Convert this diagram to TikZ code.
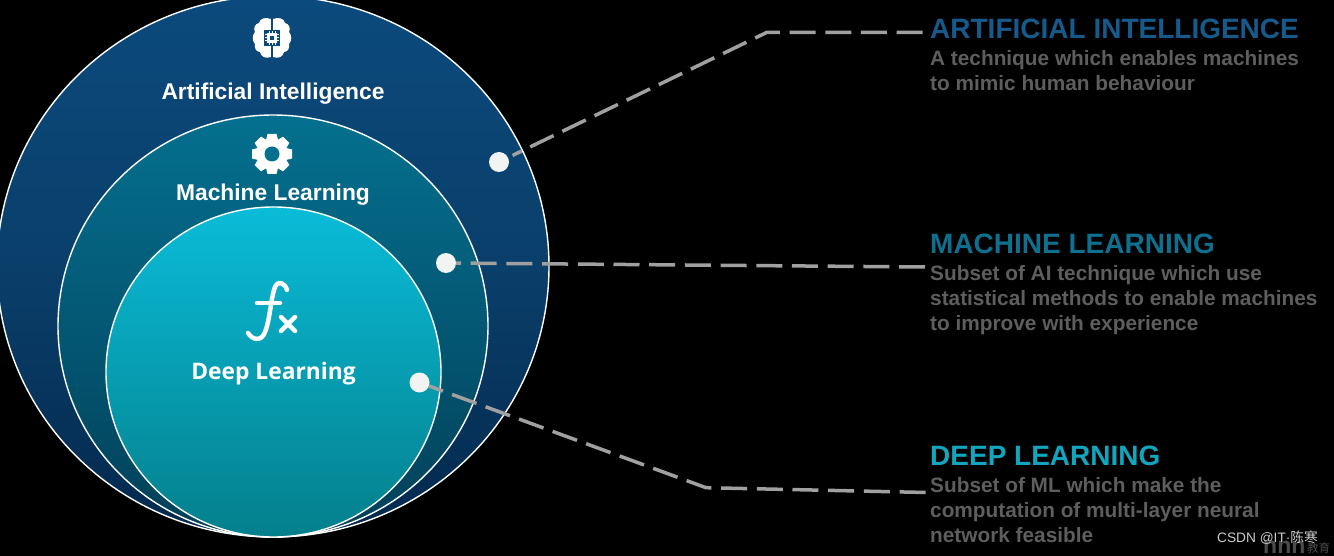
\documentclass[tikz,border=0pt]{standalone}
\usepackage{fontspec}
\setmainfont{Liberation Sans}
\newfontfamily\labelfont{Open Sans}
\newfontfamily\cjk{Noto Sans CJK SC}
\usetikzlibrary{positioning,shapes.geometric}
\definecolor{aiblue}{HTML}{165A8C}
\definecolor{mlteal}{HTML}{0F6F8F}
\definecolor{dlcyan}{HTML}{12A6BE}
\definecolor{desc}{HTML}{5E5E5E}
\definecolor{leader}{HTML}{A0A0A0}
\definecolor{dotgrey}{HTML}{F2F4F3}
\definecolor{aitop}{HTML}{0B4A7D}
\definecolor{aimid}{HTML}{0A3F6A}
\definecolor{aibot}{HTML}{03284D}
\definecolor{mltop}{HTML}{04708F}
\definecolor{mlbot}{HTML}{033F58}
\definecolor{dltop}{HTML}{0ABCD8}
\definecolor{dlbot}{HTML}{047F8C}

\begin{document}
\begin{tikzpicture}[
    x=1pt, y=-1pt,
    disc/.style={ellipse, draw=white, line width=1.4pt, inner sep=0pt},
    circlelabel/.style={text=white, font=\bfseries\fontsize{22.8}{26}\selectfont, inner sep=0pt, anchor=base},
    heading/.style={font=\bfseries\fontsize{28}{32}\selectfont, inner sep=0pt, anchor=base west},
    body/.style={text=desc, font=\bfseries\fontsize{20.8}{25}\selectfont, inner sep=0pt, align=left, anchor=north west},
    spot/.style={circle, fill=dotgrey, minimum size=20pt, inner sep=0pt},
    leadline/.style={draw=leader, line width=3.5pt, shorten <=10pt},
    icon/.style={draw=white, line width=4.5pt, line cap=round, line join=round}
]
\fill[black] (0,0) rectangle (1334,556);
\useasboundingbox (0,0) rectangle (1334,556);
\clip (0,0) rectangle (1334,556);

% the three discs
\node[disc, minimum width=552pt, minimum height=541pt, top color=aitop, bottom color=aibot, middle color=aimid] (ai) at (273,266.5) {};
\node[disc, minimum width=430pt, minimum height=422pt, top color=mltop, bottom color=mlbot] (ml) at (273,326) {};
\node[disc, minimum width=335pt, minimum height=330pt, top color=dltop, bottom color=dlbot] (dl) at (273.5,372) {};

% names inside
\node[circlelabel] (ailabel) at (273,100) {Artificial Intelligence};
\node[circlelabel] (mllabel) at (273,201) {Machine Learning};
\node[circlelabel, font=\labelfont\bfseries\fontsize{22.8}{26}\selectfont] (dllabel) at (273.5,379) {Deep Learning};

% brain
\foreach \side in {1,-1} {
  \fill[white, shift={(272,38)}, xscale=\side]
    (1.2,-19) .. controls (6,-21) and (12,-20) .. (13,-15)
    .. controls (17,-14) and (19,-10) .. (17,-6)
    .. controls (20,-3) and (20,3) .. (17,6)
    .. controls (18,11) and (15,14) .. (12,14)
    .. controls (11,19) and (6,21) .. (1.2,19) -- cycle;
}
\fill[aitop] (264,30) rectangle (280,46);
\foreach \p in {-3,0,3} {
  \draw[white, line width=1pt] (265,38+\p) -- (279,38+\p);
  \draw[white, line width=1pt] (272+\p,31) -- (272+\p,45);
}
\fill[white] (267,33) rectangle (277,43);
\fill[aitop] (270,36) rectangle (274,40);

% gear
\foreach \a in {0,45,...,315} {
  \fill[white, shift={(272,154)}, rotate=\a] (-6.5,-12) -- (-4.5,-20) -- (4.5,-20) -- (6.5,-12) -- cycle;
}
\fill[white] (272,154) circle (15.5pt);
\fill[mltop] (272,154) circle (7.5pt);

% fx
\draw[icon] (287,290) .. controls (285,283) and (278,280) .. (275,287)
  .. controls (271,297) and (270,320) .. (265,332)
  .. controls (262,341) and (253,341) .. (248,333);
\draw[icon] (257,303) -- (280,303);
\draw[icon] (281,317) -- (295,331);
\draw[icon] (295,317) -- (281,331);

% spots on the rims
\node[spot] (aispot) at (499,162) {};
\node[spot] (mlspot) at (446,263) {};
\node[spot] (dlspot) at (419.5,382.5) {};

% text on the right
\node[heading, text=aiblue] (aihead) at (930,38.5) {ARTIFICIAL INTELLIGENCE};
\node[body, below=11.5pt of aihead.south west, anchor=north west] (aitext) {A technique which enables machines\\to mimic human behaviour};
\node[heading, text=mlteal] (mlhead) at (930,253.5) {MACHINE LEARNING};
\node[body, below=11.5pt of mlhead.south west, anchor=north west] (mltext) {Subset of AI technique which use\\statistical methods to enable machines\\to improve with experience};
\node[heading, text=dlcyan] (dlhead) at (930,465) {DEEP LEARNING};
\node[body, below=11.5pt of dlhead.south west, anchor=north west] (dltext) {Subset of ML which make the\\computation of multi-layer neural\\network feasible};

% leaders
\coordinate (aibend) at (767,32.3);
\coordinate (aiend) at (923.5,32.3);
\coordinate (mlend) at (925,267);
\coordinate (dlbend) at (706,487.7);
\coordinate (dlend) at (927,492.5);
\draw[leadline, shorten <=15pt, dash pattern=on 26pt off 9.7pt, dash phase=16pt] (aispot.center) -- (aibend) -- (aiend);
\draw[leadline, dash pattern=on 26pt off 9.7pt, dash phase=21pt] (mlspot.center) -- (mlend);
\draw[leadline, dash pattern=on 26pt off 9.7pt, dash phase=11pt] (dlspot.center) -- (dlbend) -- (dlend);

% watermark
\node[text=white!30!black, font=\bfseries\fontsize{23}{23}\selectfont, inner sep=0pt, anchor=base west] (wmark) at (1263,553) {nnn};
\node[text=white!30!black, font=\cjk\fontsize{11.5}{11.5}\selectfont, inner sep=0pt, anchor=base west] (wmarkb) at (1307,552) {教育};
\node[text=white!80!black, font=\fontsize{13.7}{14}\selectfont, inner sep=0pt, anchor=base west] (csdn) at (1217,542) {CSDN @IT·{\cjk 陈寒}};
\end{tikzpicture}
\end{document}
